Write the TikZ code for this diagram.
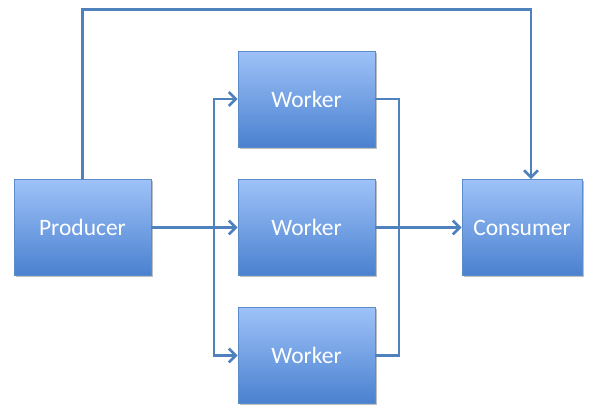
\documentclass[tikz,border=0pt]{standalone}
\usepackage{fontspec}
\setmainfont{Carlito}
\usetikzlibrary{arrows.meta,shadows}
\definecolor{boxtop}{HTML}{9EC2F8}
\definecolor{boxbot}{HTML}{4A81D0}
\definecolor{boxedge}{HTML}{5B8BCB}
\definecolor{linec}{HTML}{4F81BD}
\tikzset{
  block/.style={draw=boxedge, line width=0.8pt, top color=boxtop, bottom color=boxbot,
    minimum width=137pt, minimum height=96pt, inner sep=0pt,
    text=white, font=\fontsize{23.5}{28}\selectfont,
    drop shadow={shadow xshift=1.5pt, shadow yshift=-1.5pt, fill=black, opacity=0.25}},
  conn/.style={draw=linec, line width=2.6pt},
  arr/.style={conn, -{Straight Barb[length=7pt,width=14pt,line width=2.6pt]}}
}
\begin{document}
\begin{tikzpicture}[x=1pt,y=-1pt]
\useasboundingbox (0,0) rectangle (589,407);
\node[block] (prod) at (82.5,227.5) {Producer};
\node[block] (w1) at (306.5,99) {Worker};
\node[block] (w2) at (306.5,227.5) {Worker};
\node[block] (w3) at (306.5,355.5) {Worker};
\node[block, minimum width=120pt] (cons) at (522,227.5) {Consumer};
\coordinate (topr) at (531,9.5);
\coordinate (split) at (214,227.5);
\coordinate (join) at (399,227.5);
% producer to consumer over the top
\draw[arr] (prod.north) |- (topr) -- (topr |- cons.north);
% split
\draw[conn] (prod.east) -- (split);
\draw[arr] (split) -- (w2.west);
\draw[arr] (split) |- (w1.west);
\draw[arr] (split) |- (w3.west);
% join
\draw[conn] (w1.east) -| (join);
\draw[conn] (w3.east) -| (join);
\draw[arr] (w2.east) -- (cons.west);
\end{tikzpicture}
\end{document}
